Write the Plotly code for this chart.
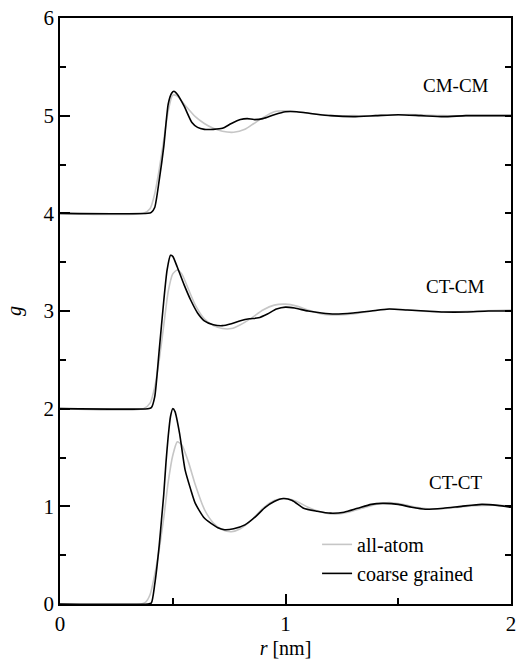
import plotly.graph_objects as go

# pair labels and vertical offsets used in the figure
pair_names = ["CT-CT", "CT-CM", "CM-CM"]
offsets = [0, 2, 4]
label_pos_r = [1.755, 1.755, 1.755]
label_pos_g = [1.24, 3.25, 5.31]

# ---- CT-CT (raw g) ----
ctct_r_aa = [0, 0.36, 0.38, 0.40, 0.42, 0.44, 0.46, 0.48, 0.50, 0.52, 0.54, 0.57, 0.60, 0.64, 0.68,
             0.72, 0.76, 0.80, 0.85, 0.90, 0.95, 1.00, 1.05, 1.10, 1.16, 1.22, 1.28, 1.34, 1.40,
             1.46, 1.52, 1.58, 1.65, 1.72, 1.80, 1.88, 1.95, 2.00]
ctct_g_aa = [0, 0, 0.02, 0.10, 0.30, 0.56, 0.88, 1.25, 1.52, 1.66, 1.63, 1.45, 1.22, 0.97, 0.83,
             0.76, 0.74, 0.77, 0.86, 0.98, 1.06, 1.08, 1.05, 0.99, 0.94, 0.92, 0.94, 0.98, 1.02,
             1.04, 1.02, 0.99, 0.97, 0.98, 1.00, 1.01, 1.01, 1.00]
ctct_r_cg = [0, 0.39, 0.405, 0.42, 0.44, 0.45, 0.46, 0.47, 0.48, 0.49, 0.50, 0.51, 0.53, 0.555,
             0.58, 0.60, 0.64, 0.70, 0.73, 0.77, 0.82, 0.87, 0.91, 0.95, 0.99, 1.03, 1.08, 1.14,
             1.20, 1.26, 1.32, 1.38, 1.43, 1.50, 1.56, 1.62, 1.70, 1.78, 1.87, 1.94, 2.00]
ctct_g_cg = [0, 0, 0.01, 0.20, 0.60, 0.86, 1.12, 1.45, 1.72, 1.92, 2.00, 1.97, 1.75, 1.37,
             1.17, 1.03, 0.88, 0.78, 0.76, 0.77, 0.81, 0.90, 0.99, 1.05, 1.08, 1.06, 0.98, 0.95,
             0.93, 0.94, 0.98, 1.02, 1.03, 1.02, 0.99, 0.97, 0.98, 1.00, 1.02, 1.01, 0.99]

# ---- CT-CM (raw g) ----
ctcm_r_aa = [0, 0.37, 0.40, 0.42, 0.44, 0.46, 0.48, 0.50, 0.52, 0.54, 0.57, 0.60, 0.64, 0.68,
             0.72, 0.76, 0.80, 0.85, 0.90, 0.95, 1.00, 1.05, 1.10, 1.16, 1.22, 1.30, 1.38, 1.46,
             1.55, 1.65, 1.75, 1.85, 2.00]
ctcm_g_aa = [0, 0, 0.06, 0.22, 0.50, 0.85, 1.20, 1.38, 1.42, 1.38, 1.22, 1.06, 0.92, 0.85,
             0.82, 0.82, 0.86, 0.93, 1.01, 1.06, 1.07, 1.05, 1.01, 0.97, 0.96, 0.97, 1.00, 1.02,
             1.01, 0.99, 0.99, 1.00, 1.01]
ctcm_r_cg = [0, 0.39, 0.405, 0.42, 0.44, 0.46, 0.475, 0.49, 0.50, 0.52, 0.55, 0.58, 0.61, 0.64,
             0.68, 0.72, 0.76, 0.80, 0.84, 0.88, 0.92, 0.96, 1.00, 1.04, 1.10, 1.16, 1.22, 1.30,
             1.38, 1.46, 1.54, 1.62, 1.70, 1.80, 1.90, 2.00]
ctcm_g_cg = [0, 0, 0.01, 0.12, 0.60, 1.10, 1.42, 1.57, 1.56, 1.45, 1.27, 1.11, 0.98, 0.90,
             0.86, 0.85, 0.87, 0.90, 0.92, 0.93, 0.97, 1.02, 1.04, 1.03, 1.00, 0.98, 0.97, 0.98,
             1.00, 1.02, 1.01, 1.00, 0.99, 0.99, 1.00, 1.00]

# ---- CM-CM (raw g) ----
cmcm_r_aa = [0, 0.37, 0.40, 0.42, 0.44, 0.46, 0.48, 0.50, 0.52, 0.55, 0.60, 0.64, 0.68, 0.72,
             0.77, 0.82, 0.86, 0.90, 0.95, 1.00, 1.05, 1.12, 1.21, 1.30, 1.40, 1.50, 1.60, 1.70,
             1.80, 2.00]
cmcm_g_aa = [0, 0, 0.05, 0.20, 0.45, 0.75, 1.05, 1.21, 1.20, 1.12, 0.99, 0.92, 0.87, 0.84,
             0.83, 0.86, 0.92, 0.98, 1.04, 1.05, 1.04, 1.02, 1.00, 1.00, 1.00, 1.01, 1.01, 1.00,
             1.00, 1.00]
cmcm_r_cg = [0, 0.39, 0.405, 0.42, 0.44, 0.46, 0.48, 0.495, 0.505, 0.52, 0.55, 0.585, 0.61,
             0.64, 0.68, 0.72, 0.76, 0.80, 0.83, 0.86, 0.90, 0.95, 1.00, 1.05, 1.12, 1.20, 1.30,
             1.40, 1.50, 1.60, 1.70, 1.80, 1.90, 2.00]
cmcm_g_cg = [0, 0, 0.01, 0.06, 0.34, 0.68, 1.12, 1.23, 1.25, 1.22, 1.10, 0.93, 0.88,
             0.86, 0.86, 0.87, 0.92, 0.96, 0.97, 0.96, 0.97, 1.01, 1.04, 1.04, 1.02, 1.00, 0.99,
             1.00, 1.01, 1.00, 0.99, 1.00, 1.00, 1.00]

series = [
    (ctct_r_aa, ctct_g_aa, ctct_r_cg, ctct_g_cg),
    (ctcm_r_aa, ctcm_g_aa, ctcm_r_cg, ctcm_g_cg),
    (cmcm_r_aa, cmcm_g_aa, cmcm_r_cg, cmcm_g_cg),
]

FONT = "Liberation Serif"
GRAY = "#c6c6c6"

fig = go.Figure()
for i, (ra, ga, rc, gc) in enumerate(series):
    off = offsets[i]
    fig.add_trace(go.Scatter(
        x=ra, y=[v + off for v in ga], mode="lines", name="all-atom",
        line=dict(color=GRAY, width=1.6, shape="spline", smoothing=0.6),
        showlegend=(i == 0), legendrank=1))
for i, (ra, ga, rc, gc) in enumerate(series):
    off = offsets[i]
    fig.add_trace(go.Scatter(
        x=rc, y=[v + off for v in gc], mode="lines", name="coarse grained",
        line=dict(color="black", width=1.6, shape="spline", smoothing=0.6),
        showlegend=(i == 0), legendrank=2))

for name, xr, yg in zip(pair_names, label_pos_r, label_pos_g):
    fig.add_annotation(x=xr, y=yg, text=name, showarrow=False,
                       font=dict(family=FONT, size=19, color="black"))

fig.update_layout(
    width=518, height=660,
    margin=dict(l=60, r=2, t=18, b=56),
    paper_bgcolor="white", plot_bgcolor="white",
    font=dict(family=FONT, size=20, color="black"),
    legend=dict(x=0.57, y=0.135, xanchor="left", yanchor="top",
                bgcolor="rgba(0,0,0,0)", font=dict(family=FONT, size=20),
                tracegroupgap=0, itemwidth=30),
    xaxis=dict(range=[0, 2], dtick=1, tick0=0, ticks="inside", ticklen=10, tickwidth=1.5,
               tickcolor="black", showline=True, linecolor="black", linewidth=1.8,
               mirror=True, showgrid=False, zeroline=False, ticklabeloverflow="allow",
               tickfont=dict(family=FONT, size=21),
               minor=dict(dtick=0.5, ticks="inside", ticklen=6, tickwidth=1.5,
                          tickcolor="black", showgrid=False),
               title=dict(text="<i>r</i> [nm]", standoff=6,
                          font=dict(family=FONT, size=20))),
    yaxis=dict(range=[0, 6], dtick=1, tick0=0, ticks="inside", ticklen=10, tickwidth=1.5,
               tickcolor="black", showline=True, linecolor="black", linewidth=1.8,
               mirror=True, showgrid=False, zeroline=False,
               tickfont=dict(family=FONT, size=21),
               minor=dict(dtick=0.5, ticks="inside", ticklen=6, tickwidth=1.5,
                          tickcolor="black", showgrid=False),
               title=dict(text="<i>g</i>", standoff=16,
                          font=dict(family=FONT, size=20))),
    yaxis2=dict(range=[0, 6], overlaying="y", side="right", dtick=0.5, tick0=0,
                ticks="inside", ticklen=6, tickwidth=1.5, tickcolor="black",
                showticklabels=False, showline=True, linecolor="black", linewidth=1.8,
                showgrid=False, zeroline=False),
)
# invisible trace to activate right-side axis ticks
fig.add_trace(go.Scatter(x=[0, 2], y=[0, 6], yaxis="y2", mode="lines",
                         line=dict(width=0), hoverinfo="skip", showlegend=False, opacity=0))

fig.write_html("out.html")
